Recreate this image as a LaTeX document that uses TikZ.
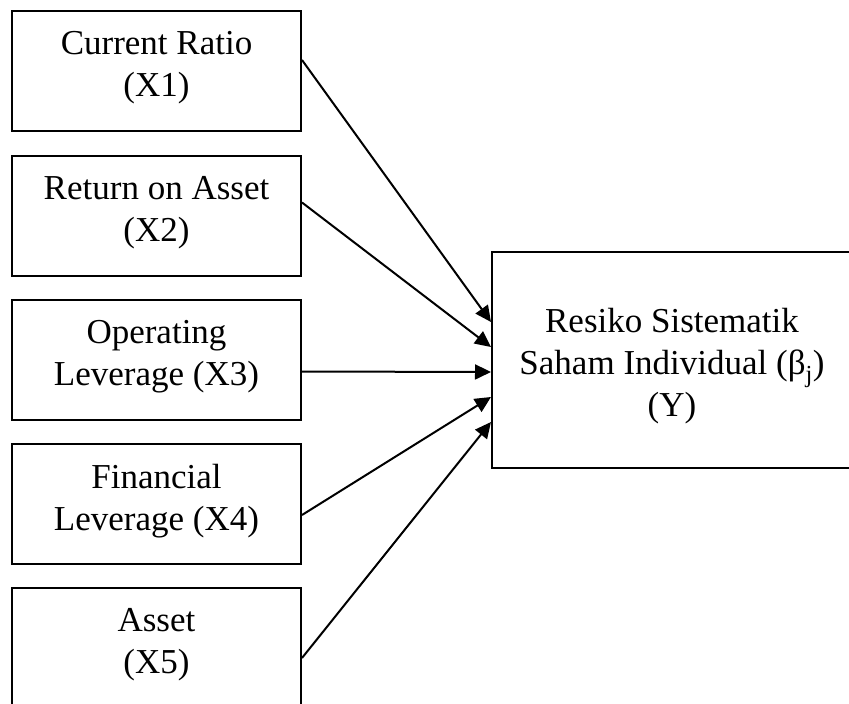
\documentclass[tikz,border=0pt]{standalone}
\usepackage{fontspec}
\setmainfont{Liberation Serif}
\usetikzlibrary{arrows.meta,calc}
\begin{document}
\begin{tikzpicture}[x=1pt,y=-1pt,
  txt/.style={align=center,inner sep=0pt,font=\fontsize{35}{42}\selectfont},
  lbox/.style={draw,line width=2pt,minimum width=289pt,minimum height=120pt,inner sep=0pt},
  rbox/.style={draw,line width=2pt,minimum width=360pt,minimum height=216pt,inner sep=0pt},
  arr/.style={line width=2pt,-{Triangle[length=16pt,width=15pt]}}]
\useasboundingbox (0,0) rectangle (849,704);
\clip (0,0) rectangle (849,704);
\node[lbox,label={[txt,yshift=3pt]center:Current Ratio\\(X1)}] (x1) at (156.5,71) {};
\node[lbox,label={[txt,yshift=3pt]center:Return on Asset\\(X2)}] (x2) at (156.5,215.5) {};
\node[lbox,label={[txt,yshift=3pt]center:Operating\\Leverage (X3)}] (x3) at (156.5,359.5) {};
\node[lbox,label={[txt,yshift=3pt]center:Financial\\Leverage (X4)}] (x4) at (156.5,504) {};
\node[lbox,label={[txt,yshift=3pt]center:Asset\\(X5)}] (x5) at (156.5,648) {};
\node[rbox,label={[txt,yshift=-6pt]center:Resiko Sistematik\\Saham Individual (β\textsubscript{j})\\(Y)}] (y) at (672,360) {};
\draw[arr] ($(x1.east)+(0,-11)$) -- ($(y.west)+(0,-38)$);
\draw[arr] ($(x2.east)+(0,-13)$) -- ($(y.west)+(0,-13)$);
\draw[arr] ($(x3.east)+(0,12)$) -- ($(y.west)+(0,12)$);
\draw[arr] ($(x4.east)+(0,11)$) -- ($(y.west)+(0,37)$);
\draw[arr] ($(x5.east)+(0,10)$) -- ($(y.west)+(0,62)$);
\end{tikzpicture}
\end{document}
